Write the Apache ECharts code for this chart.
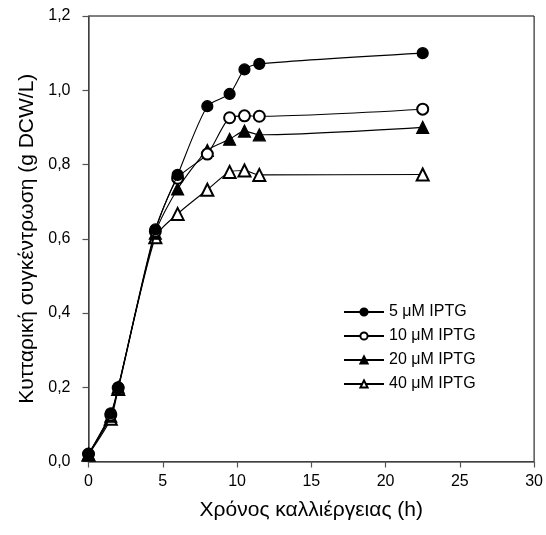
<!DOCTYPE html>
<html>
<head>
<meta charset="utf-8">
<script src="https://cdn.jsdelivr.net/npm/echarts@6/dist/echarts.min.js"></script>
<style>
  html, body { margin: 0; padding: 0; background: #fff; }
  #chart { width: 546px; height: 535px; }
</style>
</head>
<body>
<div id="chart"></div>
<script>
// time points (h)
const hours = [0, 1.5, 2, 4.5, 6, 8, 9.5, 10.5, 11.5, 22.5]
const seriesNames = ['5 μM IPTG', '10 μM IPTG', '20 μM IPTG', '40 μM IPTG']
// cell concentration (g DCW/L)
const iptg5 = [0.02, 0.13, 0.20, 0.625, 0.772, 0.957, 0.99, 1.056, 1.071, 1.10]
const iptg10 = [0.02, 0.125, 0.198, 0.62, 0.763, 0.828, 0.926, 0.931, 0.93, 0.949]
const iptg20 = [0.02, 0.122, 0.20, 0.615, 0.734, 0.838, 0.868, 0.89, 0.88, 0.90]
const iptg40 = [0.018, 0.115, 0.195, 0.604, 0.667, 0.732, 0.78, 0.784, 0.772, 0.773]
const yTicks = [0, 0.2, 0.4, 0.6, 0.8, 1.0, 1.2]

const markers = ['circle', 'emptyCircle', 'triangle', 'emptyTriangle']
const sizes = [11, 11, 12, 12]
const allValues = [iptg5, iptg10, iptg20, iptg40]

const chart = echarts.init(document.getElementById('chart'))

const seriesArr = allValues.map((vals, i) => {
  return {
    name: seriesNames[i],
    type: 'line',
    smooth: 0.25,
    symbol: markers[i],
    symbolSize: sizes[i],
    z: 10 - i,
    data: hours.map((h, k) => [h, vals[k]]),
    lineStyle: { color: '#000', width: 1.1 },
    itemStyle: { color: '#000', borderColor: '#000', borderWidth: 1.2 }
  }
})

const font = 'Liberation Sans, Arial, sans-serif'
const axisText = { color: '#000', fontSize: 16, fontFamily: font }

chart.setOption({
  animation: false,
  grid: {
    left: 88.5,
    right: 10,
    top: 16,
    bottom: 73.5,
    show: true,
    borderColor: '#000',
    borderWidth: 1
  },
  legend: {
    orient: 'vertical',
    left: 338,
    top: 299,
    itemWidth: 40,
    itemHeight: 9,
    itemGap: 8,
    textStyle: { color: '#000', fontSize: 16, fontFamily: font },
    data: seriesNames
  },
  xAxis: {
    type: 'value',
    min: 0,
    max: 30,
    interval: 5,
    name: 'Χρόνος καλλιέργειας (h)',
    nameLocation: 'middle',
    nameGap: 38,
    nameTextStyle: { color: '#000', fontSize: 21, fontFamily: font },
    splitLine: { show: false },
    axisLine: { onZero: false, lineStyle: { color: '#555', width: 1.5 } },
    axisTick: { length: 6, lineStyle: { color: '#555', width: 1.2 } },
    axisLabel: Object.assign({ margin: 12 }, axisText)
  },
  yAxis: {
    type: 'value',
    min: 0,
    max: 1.2,
    interval: 0.2,
    name: 'Κυτταρική συγκέντρωση (g DCW/L)',
    nameLocation: 'middle',
    nameGap: 48,
    nameTextStyle: { color: '#000', fontSize: 21, fontFamily: font },
    splitLine: { show: false },
    axisLine: { show: true, lineStyle: { color: '#555', width: 1.5 } },
    axisTick: { show: true, length: 6, lineStyle: { color: '#555', width: 1.2 } },
    axisLabel: Object.assign({
      margin: 18,
      formatter: v => {
        const t = yTicks.find(x => Math.abs(x - v) < 1e-6)
        return (t === undefined ? v : t).toFixed(1).replace('.', ',')
      }
    }, axisText)
  },
  series: seriesArr
})
</script>
</body>
</html>
